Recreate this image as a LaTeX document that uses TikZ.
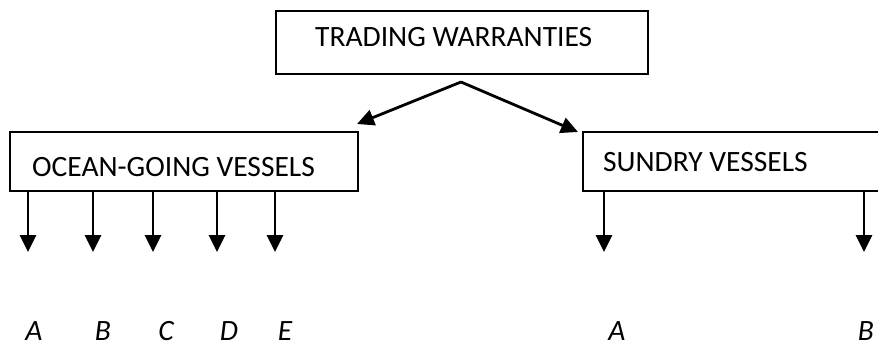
\documentclass[tikz,border=0pt]{standalone}
\usepackage{fontspec}
\setmainfont{Carlito}
\usetikzlibrary{arrows.meta,calc}
\tikzset{
  box/.style={draw=black, line width=1.6pt, rectangle, inner sep=0pt, anchor=north west},
  lbl/.style={anchor=base west, inner sep=0pt, font=\fontsize{29.5}{34}\selectfont},
  leaf/.style={anchor=base, inner sep=0pt, font=\fontsize{29.5}{34}\selectfont\itshape},
  arr/.style={line width=2.8pt, -{Triangle[length=17pt,width=16pt]}}
}
\begin{document}
\begin{tikzpicture}[x=1pt,y=-1pt]
\useasboundingbox (0,0) rectangle (878,345);
\clip (0,0) rectangle (878,345);
% boxes
\node[box, minimum width=372pt, minimum height=63pt] (top) at (275,10) {};
\node[lbl] (toptxt) at (315,47) {TRADING WARRANTIES};
\node[box, minimum width=348pt, minimum height=59pt] (ocean) at (9,131) {};
\node[lbl] (oceantxt) at (32,176) {OCEAN-GOING VESSELS};
\node[box, minimum width=320pt, minimum height=59pt] (sundry) at (582,131) {};
\node[lbl] (sundrytxt) at (603,171) {SUNDRY VESSELS};
% diagonal arrows
\coordinate (apex) at (461,82);
\coordinate (ltip) at (357,124);
\coordinate (rtip) at (578,132);
\draw[arr] (apex) -- (ltip);
\draw[arr] (apex) -- (rtip);
% down arrows
\foreach \n/\x in {oA/28, oB/93, oC/153, oD/217, oE/275}{
  \coordinate (\n) at (\x,252);
  \draw[arr] (ocean.south -| \n) -- (\n);
}
\foreach \n/\x in {sA/604, sB/864}{
  \coordinate (\n) at (\x,252);
  \draw[arr] (sundry.south -| \n) -- (\n);
}
% leaf labels
\node[leaf] (lA) at (34,340) {A};
\node[leaf] (lB) at (103,340) {B};
\node[leaf] (lC) at (166,340) {C};
\node[leaf] (lD) at (229,340) {D};
\node[leaf] (lE) at (285,340) {E};
\node[leaf] (rA) at (617,340) {A};
\node[leaf] (rB) at (866,340) {B};
\end{tikzpicture}
\end{document}
